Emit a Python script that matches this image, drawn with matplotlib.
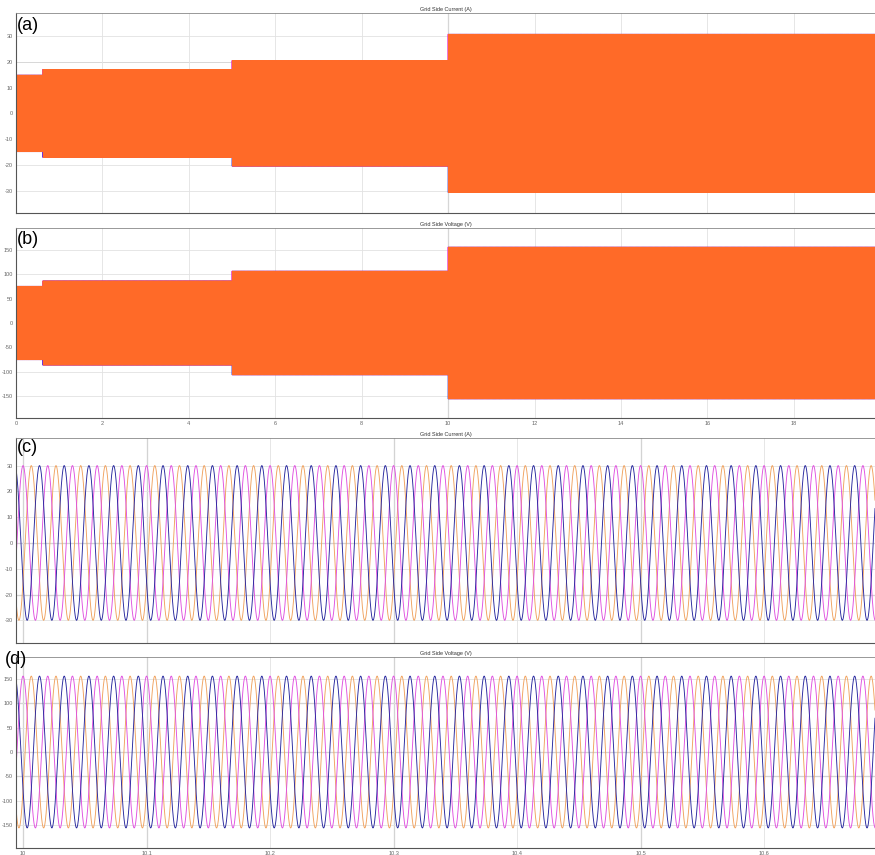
#!/usr/bin/env python
# -*- coding: utf8

import numpy as np
from matplotlib import pyplot as plt
from matplotlib import rc

# step changes of the grid side waveforms (s) and the peak value in each step
step_edges = [0.0, 0.62, 5.0, 10.0, 20.0]
current_peak = [14.8, 17.0, 20.4, 30.6]
voltage_peak = [75.0, 86.0, 106.0, 155.0]

# zoomed window after the last step
zoom_start, zoom_end = 9.9943, 10.6898
zoom_current_peak = 30.0
zoom_voltage_peak = 155.0

freq = 50.0
phase_shift = [0.0, -2 * np.pi / 3, 2 * np.pi / 3]   # magenta, orange, blue
phase_names = ['magenta', 'orange', 'blue']

overview_ticks = [0, 2, 4, 6, 8, 10, 12, 14, 16, 18]
zoom_ticks = [10.0, 10.1, 10.2, 10.3, 10.4, 10.5, 10.6]
current_ticks = [-30, -20, -10, 0, 10, 20, 30]
voltage_ticks = [-150, -100, -50, 0, 50, 100, 150]

fill_colors = {'blue': '#2a2ac8', 'magenta': '#e030e0', 'orange': '#ff6a28'}
wave_colors = {'blue': '#26269e', 'magenta': '#e050e0', 'orange': '#f0a25e'}


def setup():
    rc('font', family=['Liberation Sans', 'DejaVu Sans'])
    rc('axes', unicode_minus=False)
    rc('xtick', labelsize=4, color='#777777')
    rc('ytick', labelsize=4, color='#777777')


def style_axes(ax, title, yticks, xticks, show_x):
    ax.set_title(title, fontsize=4, color='#333333', pad=1.5)
    ax.set_yticks(yticks)
    ax.set_yticklabels([str(v) for v in yticks])
    ax.set_xticks(xticks)
    if show_x:
        ax.set_xticklabels([('%g' % v) for v in xticks])
    else:
        ax.set_xticklabels([])
    ax.tick_params(length=0, pad=2, labelcolor='#666666')
    ax.grid(True, color='#e2e2e2', linewidth=0.6)
    ax.set_axisbelow(True)
    for side in ['left', 'bottom']:
        ax.spines[side].set_color('#555555')
        ax.spines[side].set_linewidth(0.8)
    ax.spines['top'].set_color('#888888')
    ax.spines['top'].set_linewidth(0.6)
    ax.spines['right'].set_visible(False)


def overview(ax, peaks):
    t = np.linspace(step_edges[0], step_edges[-1], 240001)
    idx = np.clip(np.searchsorted(step_edges, t, side='right') - 1, 0, len(peaks) - 1)
    amp = np.asarray(peaks)[idx]
    for name in ['blue', 'magenta', 'orange']:
        k = phase_names.index(name)
        ax.plot(t, amp * np.cos(2 * np.pi * freq * t + phase_shift[k]),
                color=fill_colors[name], linewidth=0.6)


def zoomed(ax, peak):
    t = np.linspace(zoom_start, zoom_end, 20001)
    for name in ['orange', 'magenta', 'blue']:
        k = phase_names.index(name)
        ax.plot(t, peak * np.cos(2 * np.pi * freq * t + phase_shift[k]),
                color=wave_colors[name], linewidth=0.65)


def main():
    setup()
    fig = plt.figure(figsize=(8.75, 8.55), dpi=100)
    left = 16 / 875.0
    width = 1.0 - left

    ax_a = fig.add_axes([left, 1 - 213 / 855.0, width, 200 / 855.0])
    ax_b = fig.add_axes([left, 1 - 418 / 855.0, width, 190 / 855.0])
    ax_c = fig.add_axes([left, 1 - 643 / 855.0, width, 205 / 855.0])
    ax_d = fig.add_axes([left, 1 - 848 / 855.0, width, 191 / 855.0])

    overview(ax_a, current_peak)
    ax_a.set_xlim(0, 19.88)
    ax_a.set_ylim(-38.5, 38.8)
    style_axes(ax_a, 'Grid Side Current (A)', current_ticks, overview_ticks, False)

    overview(ax_b, voltage_peak)
    ax_b.set_xlim(0, 19.88)
    ax_b.set_ylim(-194, 194)
    style_axes(ax_b, 'Grid Side Voltage (V)', voltage_ticks, overview_ticks, True)

    zoomed(ax_c, zoom_current_peak)
    ax_c.set_xlim(zoom_start, zoom_end)
    ax_c.set_ylim(-38.8, 40.7)
    style_axes(ax_c, 'Grid Side Current (A)', current_ticks, zoom_ticks, False)

    zoomed(ax_d, zoom_voltage_peak)
    ax_d.set_xlim(zoom_start, zoom_end)
    ax_d.set_ylim(-196, 194)
    style_axes(ax_d, 'Grid Side Voltage (V)', voltage_ticks, zoom_ticks, True)

    # darker scope grid lines
    for ax in [ax_a, ax_b]:
        ax.axvline(10, color='#9a9a9a', linewidth=0.8, zorder=0.5)
    ax_a.axhline(20, color='#9a9a9a', linewidth=0.6, zorder=0.5)
    for ax in [ax_c, ax_d]:
        for v in [10.0, 10.1, 10.3, 10.5]:
            ax.axvline(v, color='#8a8a8a', linewidth=0.8, zorder=0.5)
    for v in [0, -20]:
        ax_c.axhline(v, color='#8a8a8a', linewidth=0.8, zorder=0.5)
    for v in [100, 0, -50]:
        ax_d.axhline(v, color='#8a8a8a', linewidth=0.8, zorder=0.5)

    fig.text(17 / 875.0, 1 - 26 / 855.0, '(a)', fontsize=13, va='center', ha='left')
    fig.text(17 / 875.0, 1 - 240 / 855.0, '(b)', fontsize=13, va='center', ha='left')
    fig.text(17 / 875.0, 1 - 447 / 855.0, '(c)', fontsize=13, va='center', ha='left')
    fig.text(5 / 875.0, 1 - 659 / 855.0, '(d)', fontsize=13, va='center', ha='left')

    fig.savefig('out.png', dpi=100)


if __name__ == '__main__':
    main()
